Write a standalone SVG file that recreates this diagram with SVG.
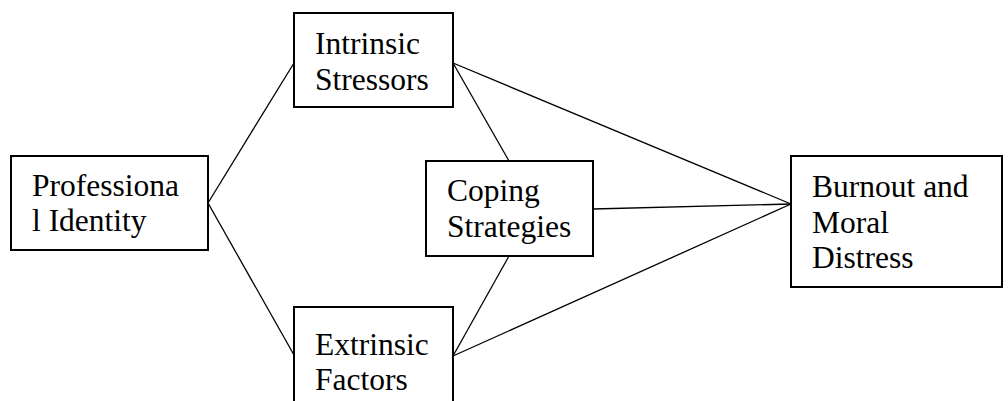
<svg xmlns="http://www.w3.org/2000/svg" width="1008" height="401" viewBox="0 0 1008 401">
<style>
.box{fill:#fff;stroke:#000;stroke-width:2}
.lbl{font-family:"Liberation Serif","Tinos","Times New Roman","DejaVu Serif",serif;font-size:31.5px;fill:#000}
.con line{stroke:#000;stroke-width:1.3}
</style>
<rect width="1008" height="401" fill="#fff"/>
<g id="connectors" class="con">
<line x1="208" y1="203" x2="294" y2="63"/>
<line x1="208" y1="203" x2="294" y2="355"/>
<line x1="453" y1="63" x2="791" y2="204"/>
<line x1="453" y1="63" x2="509" y2="161"/>
<line x1="593" y1="209" x2="791" y2="204"/>
<line x1="509" y1="256" x2="453" y2="356"/>
<line x1="453" y1="356" x2="791" y2="204"/>
</g>
<g id="professional-identity">
<rect class="box" x="11" y="156" width="197" height="94"/>
<text class="lbl" font-family="Liberation Serif, serif" x="32" y="196">Professiona</text>
<text class="lbl" font-family="Liberation Serif, serif" x="32" y="231">l Identity</text>
</g>
<g id="intrinsic-stressors">
<rect class="box" x="294" y="13" width="159" height="94"/>
<text class="lbl" font-family="Liberation Serif, serif" x="315" y="54">Intrinsic</text>
<text class="lbl" font-family="Liberation Serif, serif" x="315" y="90">Stressors</text>
</g>
<g id="coping-strategies">
<rect class="box" x="426" y="161" width="167" height="95"/>
<text class="lbl" font-family="Liberation Serif, serif" x="447" y="201">Coping</text>
<text class="lbl" font-family="Liberation Serif, serif" x="447" y="237">Strategies</text>
</g>
<g id="extrinsic-factors">
<rect class="box" x="294" y="307" width="159" height="100"/>
<text class="lbl" font-family="Liberation Serif, serif" x="315" y="355">Extrinsic</text>
<text class="lbl" font-family="Liberation Serif, serif" x="315" y="390">Factors</text>
</g>
<g id="burnout-moral-distress">
<rect class="box" x="791" y="156" width="211" height="131"/>
<text class="lbl" font-family="Liberation Serif, serif" x="812" y="197">Burnout and</text>
<text class="lbl" font-family="Liberation Serif, serif" x="812" y="233">Moral</text>
<text class="lbl" font-family="Liberation Serif, serif" x="812" y="268">Distress</text>
</g>
</svg>
